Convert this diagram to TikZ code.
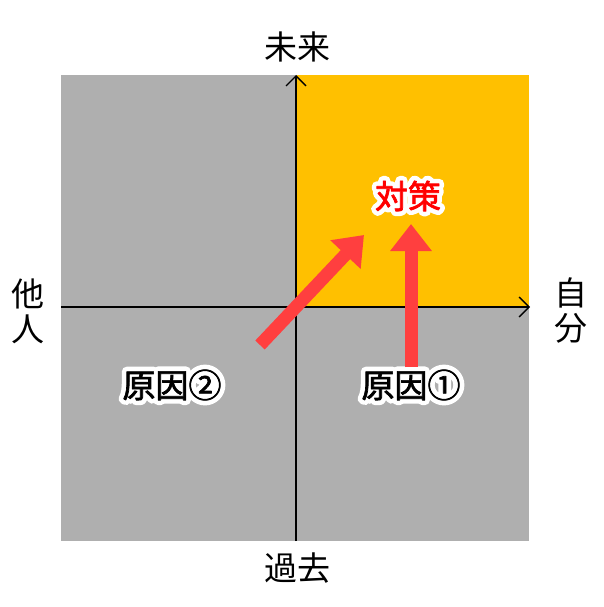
\documentclass[tikz,border=0pt]{standalone}
\usepackage{fontspec}
\setmainfont{Noto Sans CJK JP}
\usetikzlibrary{arrows.meta}
\definecolor{bggray}{HTML}{AFAFAF}
\definecolor{quadorange}{HTML}{FFC000}
\definecolor{arrowred}{HTML}{FF3F3F}
% white halo behind a text: stroke the glyphs in white, then set them again
\newcommand{\halotext}[1]{%
  \leavevmode\rlap{\color{white}\special{pdf:literal direct 10 w 1 j 2 Tr}#1\special{pdf:literal direct 0 Tr 1 w}}%
  \special{pdf:literal direct 0.7 w 2 Tr}#1\special{pdf:literal direct 0 Tr 1 w}}

\begin{document}
\begin{tikzpicture}[x=1pt,y=-1pt]
\tikzset{
  axislabel/.style={font=\fontsize{33}{35}\selectfont, inner sep=0pt},
  caselabel/.style={font=\fontsize{33}{35}\selectfont, inner sep=0pt},
  axisline/.style={line width=1.4pt, -{Straight Barb[length=10pt,width=20pt,line width=1.4pt]}},
  bigarrow/.style={arrowred, line width=13pt, -{Triangle[length=27pt,width=40pt]}}
}
\useasboundingbox (0,0) rectangle (604,607);
% quadrants
\fill [bggray] (61,75) rectangle (529,541);
\fill [quadorange] (297,75) rectangle (529,307);
% axes
\coordinate (ybot) at (296,541);
\coordinate (ytop) at (296,75);
\coordinate (xleft) at (61,307);
\coordinate (xright) at (530,307);
\draw [axisline] (ybot) -- (ytop);
\draw [axisline] (xleft) -- (xright);
% axis labels
\node [axislabel] (future) at (297,47) {未来};
\node [axislabel] (past) at (297,568) {過去};
\node [axislabel, align=center] (others) at (28,311) {他\\人};
\node [axislabel, align=center] (self) at (571,311) {自\\分};
% labels
\node [caselabel, text=red] (measure) at (408,196) {\halotext{対策}};
\node [caselabel] (cause2) at (172,385) {\halotext{原因②}};
\node [caselabel] (cause1) at (411,385) {\halotext{原因①}};
% arrows
\coordinate (c2start) at (260,345);
\coordinate (c2end) at (364,235);
\coordinate (c1start) at (411,367);
\coordinate (c1end) at (411,224);
\draw [bigarrow] (c2start) -- (c2end);
\draw [bigarrow] (c1start) -- (c1end);
\end{tikzpicture}
\end{document}
